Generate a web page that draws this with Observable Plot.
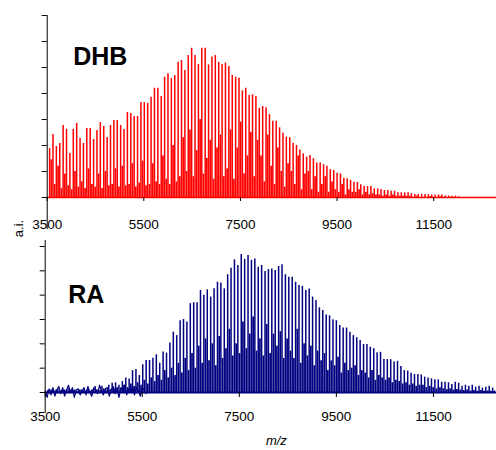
<!DOCTYPE html>
<html><head><meta charset="utf-8">
<script src="https://cdn.jsdelivr.net/npm/d3@7"></script>
<script src="https://cdn.jsdelivr.net/npm/@observablehq/plot@0.6"></script>
<style>
body{margin:0;background:#fff;}
#chart{width:496px;height:450px;overflow:hidden;background:#fff;}
#chart svg{display:block;}
</style></head><body><div id="chart"></div>
<script>
// m/z axis
const xMin = 3500, xMax = 12800;
const xTicks = [3500, 5500, 7500, 9500, 11500];
const yTicksTop = [0, 1, 2, 3, 4, 5, 6, 7];
const yTicksBottom = [0, 1, 2, 3, 4, 5, 6];

// main peak m/z (repeat series)
const mzMain = [
3550,3620,3690,3760,3830,3900,3970,4040,4110,4180,
4250,4320,4390,4460,4530,4600,4670,4740,4810,4880,
4950,5020,5090,5160,5230,5300,5370,5440,5510,5580,
5650,5720,5790,5860,5930,6000,6070,6140,6210,6280,
6350,6420,6490,6560,6630,6700,6770,6840,6910,6980,
7050,7120,7190,7260,7330,7400,7470,7540,7610,7680,
7750,7820,7890,7960,8030,8100,8170,8240,8310,8380,
8450,8520,8590,8660,8730,8800,8870,8940,9010,9080,
9150,9220,9290,9360,9430,9500,9570,9640,9710,9780,
9850,9920,9990,10060,10130,10200,10270,10340,10410,10480,
10550,10620,10690,10760,10830,10900,10970,11040,11110,11180,
11250,11320,11390,11460,11530,11600,11670,11740,11810,11880,
11950,12020,12090,12160,12230,12300,12370,12440,12510,12580,
12650,12720];

// secondary peak m/z
const mzMinor = [
3585,3655,3725,3795,3865,3935,4005,4075,4145,4215,
4285,4355,4425,4495,4565,4635,4705,4775,4845,4915,
4985,5055,5125,5195,5265,5335,5405,5475,5545,5615,
5685,5755,5825,5895,5965,6035,6105,6175,6245,6315,
6385,6455,6525,6595,6665,6735,6805,6875,6945,7015,
7085,7155,7225,7295,7365,7435,7505,7575,7645,7715,
7785,7855,7925,7995,8065,8135,8205,8275,8345,8415,
8485,8555,8625,8695,8765,8835,8905,8975,9045,9115,
9185,9255,9325,9395,9465,9535,9605,9675,9745,9815,
9885,9955,10025,10095,10165,10235,10305,10375,10445,10515,
10585,10655,10725,10795,10865,10935,11005,11075,11145,11215,
11285,11355,11425,11495,11565,11635,11705,11775,11845,11915,
11985,12055,12125,12195,12265,12335,12405,12475,12545,12615,
12685,12755];

// DHB intensities (a.i.)
const dhbMain = [
1.88,2.42,1.96,2.08,2.77,2.62,1.69,2.62,2.85,2.27,
2.08,2.65,2.65,2.23,2.58,2.88,2.73,2.31,2.77,2.96,
2.96,2.77,2.62,3.27,3.23,3.12,3.12,3.65,3.65,3.62,
3.86,4.2,4.2,3.88,4.63,4.76,4.57,4.69,5.2,5.27,
4.88,5.46,5.74,5.46,5.12,5.74,5.74,5.1,5.4,5.46,
5.2,5.12,5.17,5.04,4.69,4.63,4.59,4.1,4.2,3.92,
3.95,3.88,3.43,3.5,3.45,3.19,2.93,2.93,2.68,2.47,
2.32,2.3,2.09,2.0,1.83,1.68,1.55,1.62,1.49,1.33,
1.33,1.26,1.2,1.07,1.04,0.93,0.91,0.74,0.72,0.66,
0.59,0.58,0.49,0.42,0.42,0.42,0.33,0.33,0.31,0.27,
0.27,0.24,0.24,0.18,0.18,0.18,0.18,0.15,0.12,0.12,
0.12,0.12,0.11,0.1,0.1,0.1,0.1,0.06,0.06,0.05,
0.05,0.03,0,0,0,0,0,0,0,0,
0,0];
const dhbMinor = [
1.45,0.5,1.2,0.35,0.9,0.45,0.3,1.0,0.4,0.6,
0.35,1.1,0.5,0.4,0.9,0.35,1.0,0.45,0.5,1.1,
0.4,1.2,0.45,0.5,1.3,0.4,0.55,1.4,0.45,0.5,
1.3,0.6,0.5,1.6,0.7,0.5,2.0,0.6,0.8,2.3,
1.0,2.6,0.8,1.8,3.0,0.9,1.5,2.2,0.7,1.9,
2.4,0.8,1.1,2.6,0.7,1.9,2.9,0.9,1.6,2.5,
0.8,2.2,1.6,0.6,2.4,1.2,0.5,1.9,1.0,0.4,
1.3,1.0,0.5,1.6,0.3,0.9,1.0,0.3,0.8,0.2,
0.5,0.8,0.2,0.6,0.3,0.2,0.5,0.1,0.3,0.2,
0.2,0.3,0.1,0.2,0.1,0.15,0.1,0.1,0.05,0.1,
0.05,0.1,0.05,0.05,0.05,0.05,0.05,0,0.05,0,
0,0,0.03,0,0,0.03,0,0,0,0,
0,0,0,0,0,0,0,0,0,0,
0,0];

// RA intensities (a.i.)
const raMain = [
0.08,0.1,0.05,0.12,0.06,0.1,0.15,0.05,0.1,0.06,
0.1,0.05,0.12,0.1,0.25,0.1,0.26,0.12,0.3,0.38,
0.4,0.3,0.45,0.6,0.55,0.9,0.95,0.7,1.14,1.32,
1.32,1.41,1.55,1.2,1.66,1.62,2.03,2.48,2.34,2.95,
3.0,2.9,3.65,3.69,3.69,4.19,4.0,4.22,3.92,4.26,
4.53,4.5,4.26,4.84,5.11,5.45,5.22,5.67,5.47,5.63,
5.43,5.49,5.15,5.22,4.97,5.05,5.08,5.01,5.18,5.25,
4.84,4.74,4.74,4.53,4.4,4.36,4.19,4.25,3.92,3.78,
3.48,3.37,3.19,3.15,2.99,2.95,2.75,2.65,2.65,2.48,
2.34,2.25,2.14,1.97,1.97,1.86,1.8,1.63,1.65,1.36,
1.35,1.35,1.25,1.28,1.07,0.9,0.88,0.79,0.74,0.74,
0.72,0.63,0.6,0.56,0.52,0.52,0.42,0.42,0.4,0.33,
0.42,0.38,0.26,0.3,0.26,0.3,0.22,0.26,0.18,0.22,
0.26,0.18];
const raMinor = [
0.05,0.08,0.1,0.05,0.08,0.06,0.1,0.08,0.05,0.1,
0.08,0.1,0.05,0.12,0.1,0.08,0.15,0.1,0.12,0.15,
0.2,0.15,0.3,0.2,0.35,0.25,0.4,0.3,0.5,0.35,
0.6,0.45,0.7,0.5,0.9,0.6,1.0,0.7,1.2,0.8,
1.4,0.9,1.6,1.0,1.9,1.2,2.2,1.3,2.0,1.1,
2.3,1.4,1.8,2.6,1.5,2.0,1.6,2.9,1.8,2.4,
3.1,1.7,2.2,1.5,2.8,1.6,2.4,1.9,2.5,1.4,
2.2,1.7,1.4,2.6,1.2,2.0,1.5,1.9,1.1,1.7,
1.3,1.6,0.9,1.3,1.1,1.45,0.8,1.2,0.9,1.0,
1.1,0.7,0.9,0.8,0.6,0.9,0.5,0.7,0.6,0.5,
0.6,0.4,0.5,0.45,0.35,0.4,0.3,0.35,0.25,0.3,
0.3,0.2,0.25,0.2,0.15,0.2,0.15,0.12,0.15,0.1,
0.12,0.1,0.08,0.1,0.06,0.08,0.05,0.08,0.05,0.06,
0.05,0.06];

// RA baseline noise (low m/z region)
const noiseMz = [
3500,3540,3580,3620,3660,3700,3740,3780,3820,3860,
3900,3940,3980,4020,4060,4100,4140,4180,4220,4260,
4300,4340,4380,4420,4460,4500,4540,4580,4620,4660,
4700,4740,4780,4820,4860,4900,4940,4980,5020,5060,
5100,5140,5180,5220,5260,5300,5340,5380,5420,5460,
5500,5540,5580];
const noiseVal = [
0.05,-0.2,0.15,-0.1,0.2,-0.15,0.1,0.25,-0.05,0.2,
-0.15,0.1,0.3,0.0,0.2,-0.2,0.1,0.15,-0.1,0.05,
0.2,-0.1,0.25,0.0,-0.15,0.2,0.1,-0.05,0.3,0.05,
-0.1,0.15,0.2,-0.15,0.1,0.25,-0.05,0.15,-0.2,0.2,
0.05,0.3,-0.1,0.15,0.0,0.25,-0.1,0.2,0.05,-0.15,
0.2,0.1,-0.05];

const red = "#ff0000", navy = "#000080";
const font = "'Liberation Sans', Arial, sans-serif";

const dhbMainData = mzMain.map((m, i) => ({mz: m, h: dhbMain[i]}));
const dhbMinorData = mzMinor.map((m, i) => ({mz: m, h: dhbMinor[i]}));
const raMainData = mzMain.map((m, i) => ({mz: m, h: raMain[i]}));
const raMinorData = mzMinor.map((m, i) => ({mz: m, h: raMinor[i]}));
const noiseData = noiseMz.map((m, i) => ({mz: m, v: noiseVal[i]}));

const fmt = d => String(d);

const topPlot = Plot.plot({
  width: 496, height: 240,
  marginTop: 15, marginBottom: 43, marginLeft: 46.7, marginRight: 0,
  style: {fontFamily: font, fontSize: "13.5px", color: "#000", background: "transparent"},
  x: {domain: [xMin, xMax], label: null},
  y: {domain: [0, 7], label: null},
  marks: [
    Plot.ruleX(dhbMinorData, {x: "mz", y1: 0, y2: "h", stroke: red, strokeWidth: 1.7}),
    Plot.ruleX(dhbMainData, {x: "mz", y1: 0, y2: "h", stroke: red, strokeWidth: 1.5}),
    Plot.ruleY([0], {stroke: red, strokeWidth: 1.5}),
    Plot.ruleX([xMin], {stroke: "#000", insetBottom: -32}),
    Plot.axisY(yTicksTop, {tickSize: 5, tickFormat: () => "", label: null}),
    Plot.axisX(xTicks, {tickSize: 4, tickPadding: 18, tickFormat: fmt, fontSize: 13.5, label: null}),
    Plot.text(["DHB"], {text: d => d, frameAnchor: "top-left", textAnchor: "start", lineAnchor: "top", dx: 26, dy: 32, fontSize: 25, fontWeight: "bold", fill: "#000"}),
    Plot.text(["a.i."], {text: d => d, frameAnchor: "bottom-left", rotate: -90, textAnchor: "middle", lineAnchor: "middle", dx: -28, dy: 31, fontSize: 13, fill: "#000"})
  ]
});

const bottomPlot = Plot.plot({
  width: 496, height: 210,
  marginTop: 6, marginBottom: 58, marginLeft: 44.7, marginRight: 0,
  style: {fontFamily: font, fontSize: "13.5px", color: "#000", background: "transparent"},
  x: {domain: [xMin, xMax], label: null},
  y: {domain: [0, 6], label: null},
  marks: [
    Plot.ruleX(raMinorData, {x: "mz", y1: 0, y2: "h", stroke: navy, strokeWidth: 1.7}),
    Plot.ruleX(raMainData, {x: "mz", y1: 0, y2: "h", stroke: navy, strokeWidth: 1.5}),
    Plot.line(noiseData, {x: "mz", y: "v", stroke: navy, strokeWidth: 1.2}),
    Plot.ruleY([0], {stroke: navy, strokeWidth: 2}),
    Plot.ruleX([xMin], {stroke: "#000", insetTop: -6, insetBottom: -21}),
    Plot.axisY(yTicksBottom, {tickSize: 5, tickFormat: () => "", label: null}),
    Plot.axisX(xTicks, {tickSize: 5, tickPadding: 14, tickFormat: fmt, fontSize: 13.5, label: null}),
    Plot.text(["RA"], {text: d => d, frameAnchor: "top-left", textAnchor: "start", lineAnchor: "top", dx: 23, dy: 39, fontSize: 25, fontWeight: "bold", fill: "#000"}),
    Plot.text(["m/z"], {text: d => d, frameAnchor: "bottom", lineAnchor: "top", dx: 5.5, dy: 43, fontSize: 13, fontStyle: "italic", fill: "#000"})
  ]
});

const chart = document.getElementById("chart");
chart.appendChild(topPlot);
chart.appendChild(bottomPlot);
</script></body></html>
